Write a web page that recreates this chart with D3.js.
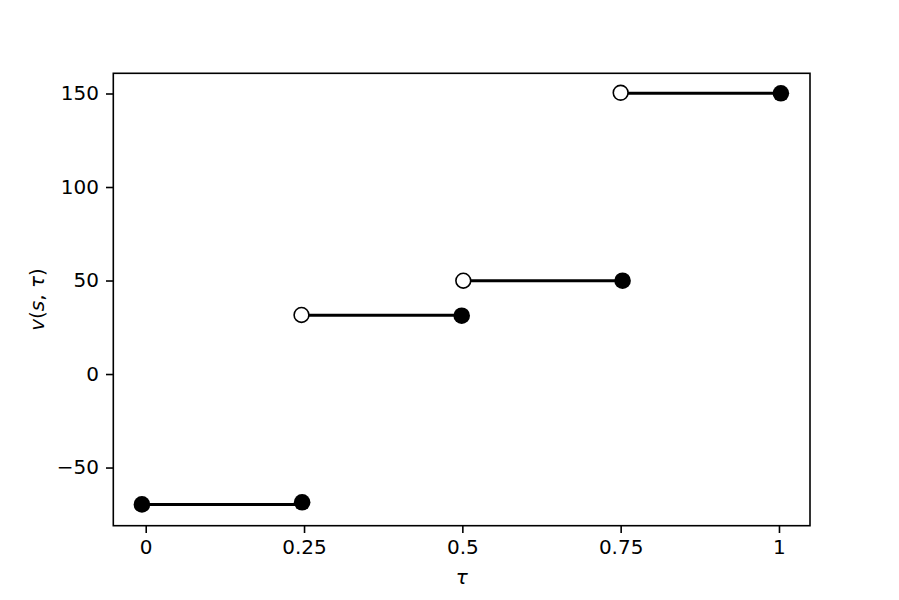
<!DOCTYPE html>
<html lang="en">
<head>
<meta charset="utf-8">
<title>v(s, tau) step chart</title>
<script src="https://d3js.org/d3.v7.min.js"></script>
<style>
  body { margin: 0; background: #fff; }
  svg text { font-family: "DejaVu Sans", sans-serif; fill: #000; }
</style>
</head>
<body>
<svg id="chart"></svg>
<script>
// data
var lineStart = [-0.006, 0.246, 0.5015, 0.750];   // tau where each piece begins
var lineEnd   = [0.247, 0.499, 0.753, 1.003];      // tau where each piece ends
var lineValue = [-69.7, 31.4, 49.9, 150.1];        // v along each piece
var startValue = [-69.7, 31.6, 49.9, 150.4];       // v at the start marker
var startOpen  = [false, true, true, true];        // open circle = excluded endpoint
var endValue   = [-68.6, 31.2, 49.9, 150.1];       // v at the closing marker
var xTicks = [0, 0.25, 0.5, 0.75, 1];
var xTickLabels = ['0', '0.25', '0.5', '0.75', '1'];
var yTicks = [-50, 0, 50, 100, 150];

var W = 899, H = 600;
var m = {top: 73.3, right: 89, bottom: 74.3, left: 113.3};
var iw = W - m.left - m.right, ih = H - m.top - m.bottom;

var svg = d3.select('#chart').attr('width', W).attr('height', H);

var x = d3.scaleLinear().domain([-0.0512, 1.049]).range([0, iw]);
var y = d3.scaleLinear().domain([-81.1, 160.8]).range([ih, 0]);

var g = svg.append('g').attr('transform', 'translate(' + m.left + ',' + m.top + ')');

// axes (matplotlib style)
var xAxis = d3.axisBottom(x).tickValues(xTicks).tickFormat((d, i) => xTickLabels[i])
  .tickSize(7.3).tickPadding(7);
var yAxis = d3.axisLeft(y).tickValues(yTicks).tickFormat(d => d < 0 ? '\u2212' + Math.abs(d) : d)
  .tickSize(7.3).tickPadding(7);

var gx = g.append('g').attr('transform', 'translate(0,' + ih + ')').call(xAxis);
var gy = g.append('g').call(yAxis);
[gx, gy].forEach(a => {
  a.select('.domain').remove();
  a.selectAll('line').attr('stroke', '#000').attr('stroke-width', 1.6);
  a.selectAll('text').attr('font-size', 20).attr('font-family', 'DejaVu Sans').attr('fill', '#000');
});

// frame
g.append('rect').attr('x', 0).attr('y', 0).attr('width', iw).attr('height', ih)
  .attr('fill', 'none').attr('stroke', '#000').attr('stroke-width', 1.6);

// pieces
var pieces = lineStart.map((s, i) => ({
  x0: s, x1: lineEnd[i], v: lineValue[i], sv: startValue[i], open: startOpen[i], ev: endValue[i]
}));

g.selectAll('.seg').data(pieces).enter().append('line').attr('class', 'seg')
  .attr('x1', d => x(d.x0)).attr('x2', d => x(d.x1))
  .attr('y1', d => y(d.v)).attr('y2', d => y(d.v))
  .attr('stroke', '#000').attr('stroke-width', 3);

g.selectAll('.start').data(pieces).enter().append('circle').attr('class', 'start')
  .attr('cx', d => x(d.x0)).attr('cy', d => y(d.sv))
  .attr('r', d => d.open ? 7.4 : 8.3)
  .attr('fill', d => d.open ? '#fff' : '#000')
  .attr('stroke', '#000').attr('stroke-width', d => d.open ? 1.6 : 0);

g.selectAll('.end').data(pieces).enter().append('circle').attr('class', 'end')
  .attr('cx', d => x(d.x1)).attr('cy', d => y(d.ev))
  .attr('r', 8.3).attr('fill', '#000');

// axis labels
svg.append('text').attr('x', m.left + iw / 2).attr('y', 584)
  .attr('text-anchor', 'middle').attr('font-size', 20).attr('font-style', 'italic').text('\u03c4');

var yl = svg.append('text').attr('transform', 'translate(44,' + (m.top + ih / 2) + ') rotate(-90)')
  .attr('text-anchor', 'middle').attr('font-size', 20);
yl.append('tspan').attr('font-style', 'italic').text('v');
yl.append('tspan').text('(');
yl.append('tspan').attr('font-style', 'italic').text('s');
yl.append('tspan').text(', ');
yl.append('tspan').attr('font-style', 'italic').text('\u03c4');
yl.append('tspan').text(')');
</script>
</body>
</html>
